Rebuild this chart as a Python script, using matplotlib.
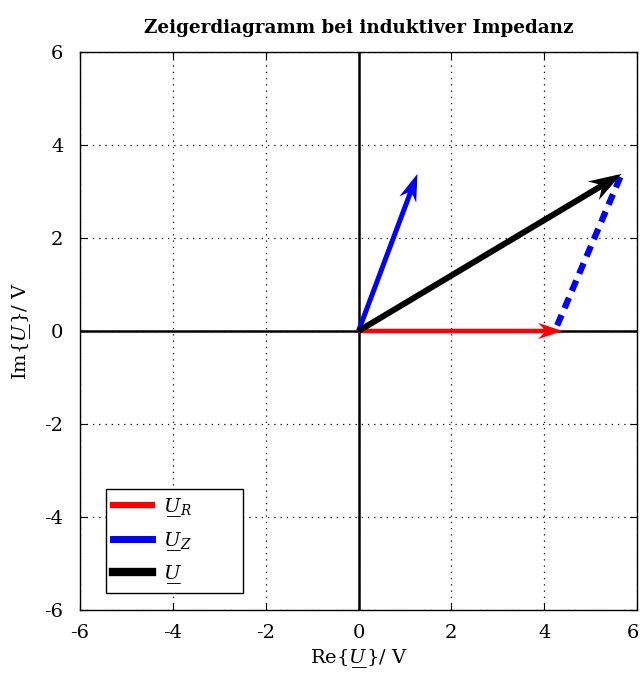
import matplotlib
matplotlib.use("Agg")
import matplotlib.pyplot as plt
import matplotlib.transforms as mtransforms
import numpy as np

plt.rcParams['font.family'] = ['DejaVu Serif']
plt.rcParams['mathtext.fontset'] = 'dejavuserif'

title = "Zeigerdiagramm bei induktiver Impedanz"
ticks = [-6, -4, -2, 0, 2, 4, 6]
U_R = (4.4, 0.0)
U_Z = (1.27, 3.38)
U = (U_R[0] + U_Z[0], U_R[1] + U_Z[1])
UL = r"U\hspace{-0.72}\_\hspace{-0.28}\_"
labels = ["$" + UL + "_R$", "$" + UL + "_Z$", "$" + UL + "$"]
colors = ["#ff0000", "#0000ff", "#000000"]

fig = plt.figure(figsize=(6.41, 6.74), dpi=100)
ax = fig.add_axes([80/641, 1-610/674, (637-80)/641, (610-52)/674])
ax.set_xlim(-6, 6)
ax.set_ylim(-6, 6)
ax.set_xticks(ticks)
ax.set_yticks(ticks)
ax.set_xticklabels([str(t) for t in ticks])
ax.set_yticklabels([str(t) for t in ticks])
ax.tick_params(direction='in', top=True, right=True, labelsize=14, length=5)
ax.tick_params(axis='x', pad=10)
ax.tick_params(axis='y', pad=12)
ax.grid(True, linestyle=(0, (1, 4)), color='black', linewidth=0.9)
for s in ax.spines.values():
    s.set_linewidth(1.0)
ax.axhline(0, color='black', lw=1.8, zorder=1)
ax.axvline(0, color='black', lw=1.8, zorder=1)

# keep the rightmost x tick label inside the figure
last = ax.get_xticklabels()[-1]
last.set_transform(last.get_transform() +
                   mtransforms.ScaledTranslation(-4/100, 0, fig.dpi_scale_trans))

# dashed helper line from U_R tip to U tip
ax.plot([U_R[0] - 0.12, U[0]], [U_R[1] + 0.12, U[1]], color=colors[1], lw=4.5,
        linestyle=(0, (1.8, 1.2)), dash_capstyle='butt', zorder=2)

vecs = [U_R, U_Z, U]
widths = [4.5, 5, 6]
for (vx, vy), c, lab, w in zip(vecs, colors, labels, widths):
    ax.quiver(0, 0, vx, vy, angles='xy', scale_units='xy', scale=1, color=c,
              width=w/557, headwidth=3.6, headlength=5.5, headaxislength=4.2, zorder=3)
    ax.plot([], [], color=c, lw=w, label=lab)

leg = ax.legend(loc='lower left', bbox_to_anchor=(26/557, 17/558, 137/557, 100/558),
                mode='expand', fontsize=14,
                fancybox=False, edgecolor='black', framealpha=1, handlelength=2.0,
                handletextpad=0.6, borderpad=0.35, labelspacing=0.55, borderaxespad=0)
leg.get_frame().set_linewidth(1.0)

ax.set_title(title, fontsize=13.2, fontweight='bold', pad=14)
ax.set_xlabel("Re$\\{" + UL + "\\}$/ V", fontsize=14, labelpad=4)
ax.set_ylabel("Im$\\{" + UL + "\\}$/ V", fontsize=14, labelpad=8)

fig.savefig("out.png", dpi=100)
